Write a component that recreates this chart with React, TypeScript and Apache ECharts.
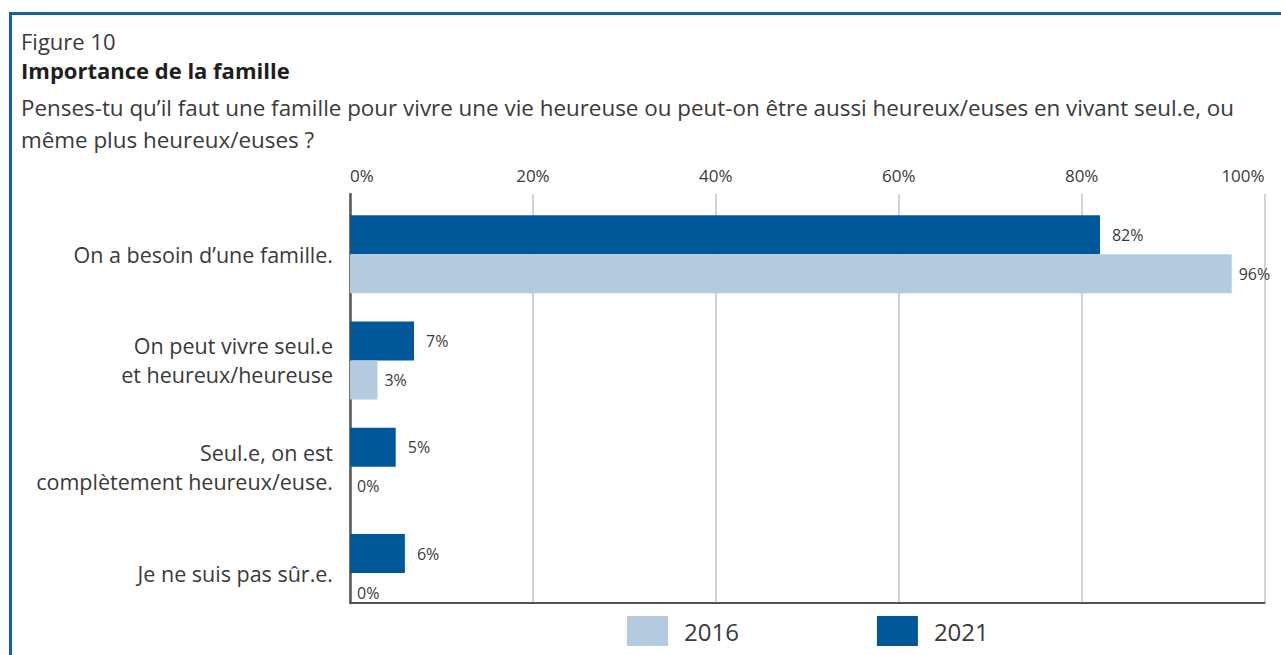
import React, { useEffect, useRef } from "react";
import * as echarts from "echarts";

const categories = [
  "On a besoin d’une famille.",
  "On peut vivre seul.e\net heureux/heureuse",
  "Seul.e, on est\ncomplètement heureux/euse.",
  "Je ne suis pas sûr.e.",
];
const values2021 = [82, 7, 5, 6];
const values2016 = [96.4, 3, 0, 0];
const seriesNames = ["2016", "2021"];
const xTicks = [0, 20, 40, 60, 80, 100];

const DARK = "#00589b";
const LIGHT = "#b4cadf";
const TEXT = "#3a3a3a";
const FONT = "'Open Sans', 'Noto Sans', sans-serif";

export default function App() {
  const ref = useRef<HTMLDivElement>(null);
  useEffect(() => {
    if (!ref.current) return;
    const chart = echarts.init(ref.current, undefined, { renderer: "svg" });
    const fmt = (p: any) => Math.round(p.value) + "%";
    chart.setOption({
      animation: false,
      textStyle: { fontFamily: FONT },
      graphic: [
        {
          type: "rect",
          shape: { x: 10.5, y: 13.5, width: 1400, height: 800 },
          style: { fill: "none", stroke: "#1560a8", lineWidth: 3 },
          silent: true,
        },
        {
          type: "text",
          style: { text: "Figure 10", x: 21, y: 41, verticalAlign: "middle", font: `22px ${FONT}`, fill: TEXT },
        },
        {
          type: "text",
          style: { text: "Importance de la famille", x: 21, y: 70, verticalAlign: "middle", font: `bold 22px ${FONT}`, fill: "#1e1e1e" },
        },
        {
          type: "text",
          style: {
            text: "Penses-tu qu’il faut une famille pour vivre une vie heureuse ou peut-on être aussi heureux/euses en vivant seul.e, ou",
            x: 21, y: 107, verticalAlign: "middle", font: `22.4px ${FONT}`, fill: TEXT,
          },
        },
        {
          type: "text",
          style: { text: "même plus heureux/euses ?", x: 21, y: 139, verticalAlign: "middle", font: `22.4px ${FONT}`, fill: TEXT },
        },
      ],
      legend: {
        data: seriesNames,
        left: 622,
        top: 611,
        itemWidth: 41,
        itemHeight: 30,
        itemGap: 138,
        icon: "rect",
        selectedMode: false,
        textStyle: { fontSize: 24, color: TEXT, fontFamily: FONT, padding: [0, 0, 0, 11] },
      },
      grid: [
        { left: 350, top: 201, width: 914.6, height: 425.2 },
        { left: 350, top: 194, width: 914.6, height: 409 },
      ],
      xAxis: [
        {
          gridIndex: 0, type: "value", min: 0, max: 100, show: false,
        },
        {
          gridIndex: 1, type: "value", position: "top", min: 0, max: 100, interval: 20,
          axisLine: { show: true, lineStyle: { color: "#555", width: 2 } },
          axisTick: { show: false },
          splitLine: { show: true, lineStyle: { color: "#c4c4c4", width: 1.5 } },
          axisLabel: {
            formatter: (v: number) => (xTicks.includes(v) ? v + "%" : ""),
            fontSize: 17, color: TEXT, margin: 10, fontFamily: FONT,
            alignMinLabel: "left", alignMaxLabel: "right",
          },
        },
      ],
      yAxis: [
        {
          gridIndex: 0, type: "category", data: categories, inverse: true,
          axisLine: { show: false }, axisTick: { show: false },
          axisLabel: {
            fontSize: 21.5, lineHeight: 29, color: TEXT, margin: 17, align: "right", fontFamily: FONT,
            padding: [0, 0, 9, 0],
          },
        },
        {
          gridIndex: 1, type: "value", min: 0, max: 1,
          axisLine: { show: true, lineStyle: { color: "#555", width: 2.5 } },
          axisTick: { show: false }, axisLabel: { show: false }, splitLine: { show: false },
        },
      ],
      series: [
        {
          name: "2021", type: "bar", data: values2021, xAxisIndex: 0, yAxisIndex: 0,
          barWidth: 39, barGap: "0%", itemStyle: { color: DARK },
          label: { show: true, position: "right", distance: 12, formatter: fmt, fontSize: 16, color: TEXT, fontFamily: FONT },
        },
        {
          name: "2016", type: "bar", data: values2016, xAxisIndex: 0, yAxisIndex: 0,
          barWidth: 39, barGap: "0%", itemStyle: { color: LIGHT },
          label: { show: true, position: "right", distance: 7, formatter: fmt, fontSize: 16, color: TEXT, fontFamily: FONT },
        },
      ],
    });
    return () => chart.dispose();
  }, []);
  return <div ref={ref} style={{ position: "absolute", left: 0, top: 0, width: 1281, height: 655 }} />;
}
